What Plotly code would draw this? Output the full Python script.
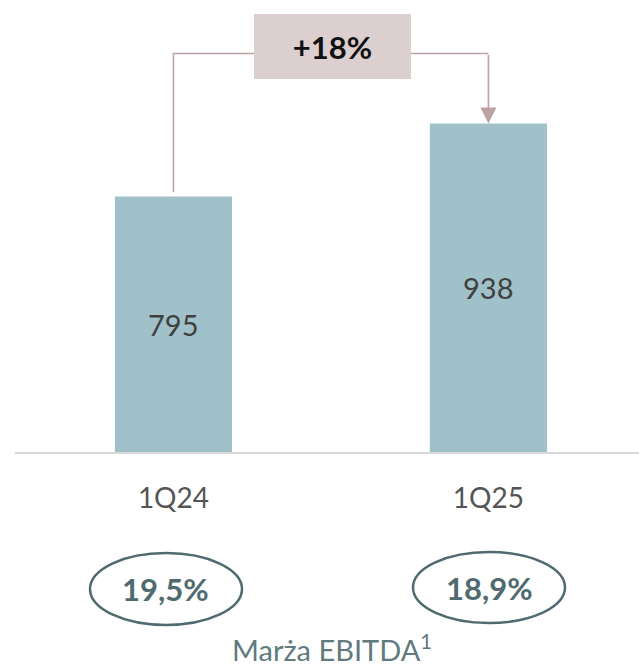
import plotly.graph_objects as go

# EBITDA by quarter
categories = ["1Q24", "1Q25"]
ebitda = [795, 938]
ebitda_labels = ["795", "938"]
margins = ["19,5%", "18,9%"]
growth_label = "+18%"
margin_title = "Marża EBITDA<sup>1</sup>"

BAR_COLOR = "#a0c1c9"
LINE_COLOR = "#bba3a3"
BOX_COLOR = "#dccfcf"
TEAL = "#4f6b70"
FONT = "Lato"

y_min, y_max = 294, 1180
bracket_top = 1075

fig = go.Figure()

fig.add_trace(go.Bar(
    x=[0, 1], y=ebitda, width=0.372,
    marker=dict(color=BAR_COLOR, line=dict(width=0)),
    hoverinfo="skip", showlegend=False,
))

# value labels centred on the visible part of each bar
for i, (v, lab) in enumerate(zip(ebitda, ebitda_labels)):
    fig.add_annotation(x=i, y=(y_min + v) / 2, xref="x", yref="y",
                       xanchor="center", yanchor="middle", showarrow=False,
                       text=lab, font=dict(family=FONT, size=29, color="#404040"))

# bracket from the first bar up and across to the second
fig.add_trace(go.Scatter(
    x=[0, 0, 1], y=[ebitda[0] + 8, bracket_top, bracket_top],
    mode="lines", line=dict(color=LINE_COLOR, width=1.6),
    hoverinfo="skip", showlegend=False,
))

# arrow down onto the second bar
fig.add_annotation(
    x=1, y=ebitda[1], ax=1, ay=bracket_top, xref="x", yref="y", axref="x", ayref="y",
    showarrow=True, arrowhead=2, arrowsize=2.0, arrowwidth=1.6,
    arrowcolor=LINE_COLOR, standoff=0, text="",
)

W, H = 639, 668

# growth box
fig.add_annotation(
    x=332.5 / W, y=1 - 46.5 / H, xref="paper", yref="paper", xanchor="center", yanchor="middle",
    text="<b>" + growth_label + "</b>", showarrow=False,
    width=157, height=65, bgcolor=BOX_COLOR, borderpad=0, borderwidth=0,
    font=dict(family=FONT, size=31, color="#111111"),
)

# margin ellipses
ellipses = [(90, 242, 553, 625), (413, 565, 552, 623)]
for (x0, x1, y0, y1), label in zip(ellipses, margins):
    fig.add_shape(type="circle", xref="paper", yref="paper",
                  x0=x0 / W, x1=x1 / W, y0=1 - y1 / H, y1=1 - y0 / H,
                  line=dict(color=TEAL, width=2.5))
    fig.add_annotation(x=(x0 + x1) / 2 / W, y=1 - (y0 + y1) / 2 / H,
                       xref="paper", yref="paper", showarrow=False,
                       xanchor="center", yanchor="middle",
                       text="<b>" + label + "</b>",
                       font=dict(family=FONT, size=31, color=TEAL))

fig.add_annotation(x=332 / W, y=1 - 648 / H, xref="paper", yref="paper",
                   xanchor="center", yanchor="middle",
                   showarrow=False, text=margin_title,
                   font=dict(family=FONT, size=29, color="#5f7b80"))

fig.update_layout(
    width=W, height=H, margin=dict(l=0, r=0, t=0, b=0),
    paper_bgcolor="white", plot_bgcolor="white",
    xaxis=dict(domain=[15 / W, 1], range=[-0.503, 1.478],
               tickmode="array", tickvals=[0, 1], ticktext=categories,
               showline=True, linecolor="#d9d9d9", linewidth=2,
               showgrid=False, zeroline=False, ticks="",
               ticklabelstandoff=20,
               tickfont=dict(family=FONT, size=28, color="#555555")),
    yaxis=dict(domain=[1 - 452 / H, 1], range=[y_min, y_max],
               visible=False, showgrid=False, zeroline=False),
    font=dict(family=FONT),
)

fig.write_html("out.html")
